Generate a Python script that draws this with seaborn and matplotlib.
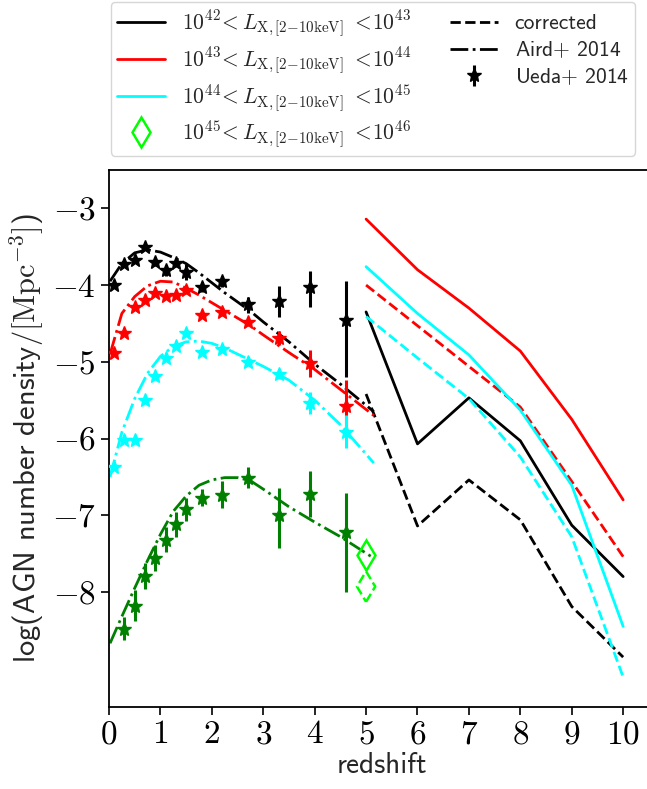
import matplotlib
matplotlib.use('Agg')
import matplotlib.pyplot as plt
import seaborn as sns
import numpy as np
from matplotlib.lines import Line2D
from matplotlib.ticker import FuncFormatter

# --- model predictions (z = 5..10) ---
z_model = [5, 6, 7, 8, 9, 10]
l42_raw = [-4.35, -6.07, -5.47, -6.03, -7.13, -7.80]
l42_cor = [-5.42, -7.14, -6.54, -7.06, -8.19, -8.85]
l43_raw = [-3.14, -3.80, -4.30, -4.86, -5.75, -6.80]
l43_cor = [-4.00, -4.53, -5.06, -5.59, -6.56, -7.54]
l44_raw = [-3.76, -4.37, -4.91, -5.63, -6.61, -8.45]
l44_cor = [-4.41, -4.95, -5.48, -6.24, -7.28, -9.11]
# brightest bin only has a value at z = 5
z_l45 = [5]
l45_raw = [-7.52]
l45_cor = [-7.93]

# --- Aird+ 2014 ---
z_aird = [0.02, 0.25, 0.5, 0.75, 1.0, 1.25, 1.5, 1.75, 2.0, 2.25, 2.5,
          2.75, 3.0, 3.5, 4.0, 4.5, 5.15]
aird_42 = [-3.95, -3.72, -3.58, -3.54, -3.57, -3.64, -3.72, -3.84, -3.97,
           -4.10, -4.22, -4.34, -4.48, -4.74, -5.03, -5.29, -5.65]
aird_43 = [-4.90, -4.37, -4.15, -4.01, -3.95, -3.96, -4.04, -4.13, -4.23,
           -4.33, -4.43, -4.53, -4.65, -4.88, -5.10, -5.36, -5.70]
aird_44 = [-6.50, -5.92, -5.48, -5.15, -4.93, -4.80, -4.74, -4.73, -4.76,
           -4.82, -4.90, -4.98, -5.06, -5.24, -5.50, -5.82, -6.32]
aird_45 = [-8.67, -8.32, -7.95, -7.59, -7.25, -6.95, -6.75, -6.61, -6.54,
           -6.51, -6.51, -6.55, -6.66, -6.89, -7.09, -7.28, -7.56]

# --- Ueda+ 2014 ---
z_ueda = [0.1, 0.3, 0.5, 0.7, 0.9, 1.1, 1.3, 1.5, 1.8, 2.2, 2.7, 3.3, 3.9, 4.6]
ueda_42 = [-4.00, -3.72, -3.67, -3.50, -3.70, -3.81, -3.71, -3.83, -4.03,
           -3.95, -4.25, -4.21, -4.03, -4.45]
ueda_42_lo = [0.04, 0.04, 0.04, 0.04, 0.05, 0.07, 0.06, 0.10, 0.06, 0.07, 0.12, 0.20, 0.25, 0.75]
ueda_42_hi = [0.04, 0.04, 0.04, 0.04, 0.05, 0.07, 0.06, 0.10, 0.06, 0.07, 0.10, 0.20, 0.21, 0.50]
ueda_43 = [-4.89, -4.63, -4.29, -4.19, -4.10, -4.14, -4.13, -4.07, -4.39,
           -4.35, -4.48, -4.69, -5.02, -5.57]
ueda_43_lo = [0.03, 0.03, 0.03, 0.03, 0.03, 0.03, 0.03, 0.04, 0.04, 0.05, 0.06, 0.09, 0.18, 0.33]
ueda_43_hi = [0.03, 0.03, 0.03, 0.03, 0.03, 0.03, 0.03, 0.04, 0.04, 0.05, 0.06, 0.09, 0.18, 0.33]
ueda_44 = [-6.37, -6.02, -6.02, -5.50, -5.19, -4.95, -4.79, -4.63, -4.87,
           -4.83, -5.00, -5.16, -5.54, -5.91]
ueda_44_lo = [0.04, 0.04, 0.04, 0.04, 0.04, 0.04, 0.04, 0.04, 0.04, 0.04, 0.05, 0.07, 0.14, 0.22]
ueda_44_hi = [0.04, 0.04, 0.04, 0.04, 0.04, 0.04, 0.04, 0.04, 0.04, 0.04, 0.05, 0.07, 0.14, 0.22]
ueda_45 = [np.nan, -8.48, -8.18, -7.79, -7.56, -7.32, -7.12, -6.92, -6.77,
           -6.73, -6.51, -7.00, -6.72, -7.22]
ueda_45_lo = [0.0, 0.15, 0.20, 0.17, 0.17, 0.16, 0.16, 0.15, 0.11, 0.17, 0.14, 0.43, 0.30, 0.78]
ueda_45_hi = [0.0, 0.15, 0.20, 0.17, 0.17, 0.16, 0.16, 0.15, 0.11, 0.17, 0.14, 0.36, 0.29, 0.51]

bin_labels = [r'$10^{42}\!<L_{\rm X,[2{-}10keV]}\ <\!10^{43}$',
              r'$10^{43}\!<L_{\rm X,[2{-}10keV]}\ <\!10^{44}$',
              r'$10^{44}\!<L_{\rm X,[2{-}10keV]}\ <\!10^{45}$',
              r'$10^{45}\!<L_{\rm X,[2{-}10keV]}\ <\!10^{46}$']

sns.set_style('ticks')
plt.rcParams['font.family'] = ['cmss10', 'DejaVu Sans']
plt.rcParams['mathtext.fontset'] = 'cm'
plt.rcParams['axes.unicode_minus'] = False
plt.rcParams['axes.edgecolor'] = 'black'
plt.rcParams['xtick.color'] = 'black'
plt.rcParams['ytick.color'] = 'black'

fig = plt.figure(figsize=(6.47, 7.89), dpi=100)
ax = fig.add_axes([109 / 647, 82 / 789, 545 / 647, 537 / 789])

lw = 2.0
ms_star = 10
ms_dia = 15.5
series = [
    ('black', l42_raw, l42_cor, aird_42, ueda_42, ueda_42_lo, ueda_42_hi),
    ('red', l43_raw, l43_cor, aird_43, ueda_43, ueda_43_lo, ueda_43_hi),
    ('cyan', l44_raw, l44_cor, aird_44, ueda_44, ueda_44_lo, ueda_44_hi),
]
ueda_handle = None
for col, raw, cor, aird, ueda, lo, hi in series:
    sns.lineplot(x=z_model, y=raw, color=col, lw=lw, ax=ax, estimator=None, sort=False)
    sns.lineplot(x=z_model, y=cor, color=col, lw=lw, ls='--', ax=ax, estimator=None, sort=False)
    sns.lineplot(x=z_aird, y=aird, color=col, lw=lw, ls='-.', ax=ax, estimator=None, sort=False)
    eb = ax.errorbar(z_ueda, ueda, yerr=[lo, hi], fmt='*', color=col, ms=ms_star,
                     elinewidth=2.2, capsize=0, zorder=3)
    if ueda_handle is None:
        ueda_handle = eb

# brightest bin
sns.lineplot(x=z_aird, y=aird_45, color='green', lw=lw, ls='-.', ax=ax,
             estimator=None, sort=False)
ax.errorbar(z_ueda, ueda_45, yerr=[ueda_45_lo, ueda_45_hi], fmt='*',
            color='green', ms=ms_star, elinewidth=2.2, capsize=0, zorder=3)
ax.plot(z_l45, l45_raw, marker='d', ms=ms_dia, mfc='none', mec='lime', mew=1.8, ls='none')
ax.scatter(z_l45, l45_cor, marker='d', s=ms_dia ** 2, facecolors='none',
           edgecolors='lime', linewidths=1.8, linestyles='--')

ax.set_xlim(0, 10.6)
ax.set_ylim(-9.5, -2.5)
ax.set_xticks(range(0, 11))
ax.set_yticks(range(-8, -2))
fmt = FuncFormatter(lambda v, _: f'${v:g}$')
ax.xaxis.set_major_formatter(fmt)
ax.yaxis.set_major_formatter(fmt)
ax.tick_params(labelsize=24, length=6, width=1.2)
for s in ax.spines.values():
    s.set_linewidth(1.3)

ax.set_xlabel('redshift', fontsize=21, labelpad=2)
ax.set_ylabel(r'log(AGN number density/$[\mathrm{Mpc}^{-3}]$)', fontsize=22, labelpad=4)

handles = [Line2D([], [], color='black', lw=lw),
           Line2D([], [], color='red', lw=lw),
           Line2D([], [], color='cyan', lw=lw),
           Line2D([], [], color='lime', marker='d', ms=15, mfc='none', mew=1.8, ls='none'),
           Line2D([], [], color='black', lw=lw, ls='--'),
           Line2D([], [], color='black', lw=lw, ls='-.'),
           ueda_handle]
labels = bin_labels + ['corrected', r'Aird$+$ 2014', r'Ueda$+$ 2014']
ax.legend(handles, labels, loc='upper left', bbox_to_anchor=(111 / 647, 1 - 2 / 789),
          bbox_transform=fig.transFigure, borderaxespad=0, ncol=2, fontsize=15.5,
          columnspacing=1.8, handlelength=2.2, labelspacing=0.28, borderpad=0.3,
          frameon=True)

fig.savefig('out.png', dpi=100)
